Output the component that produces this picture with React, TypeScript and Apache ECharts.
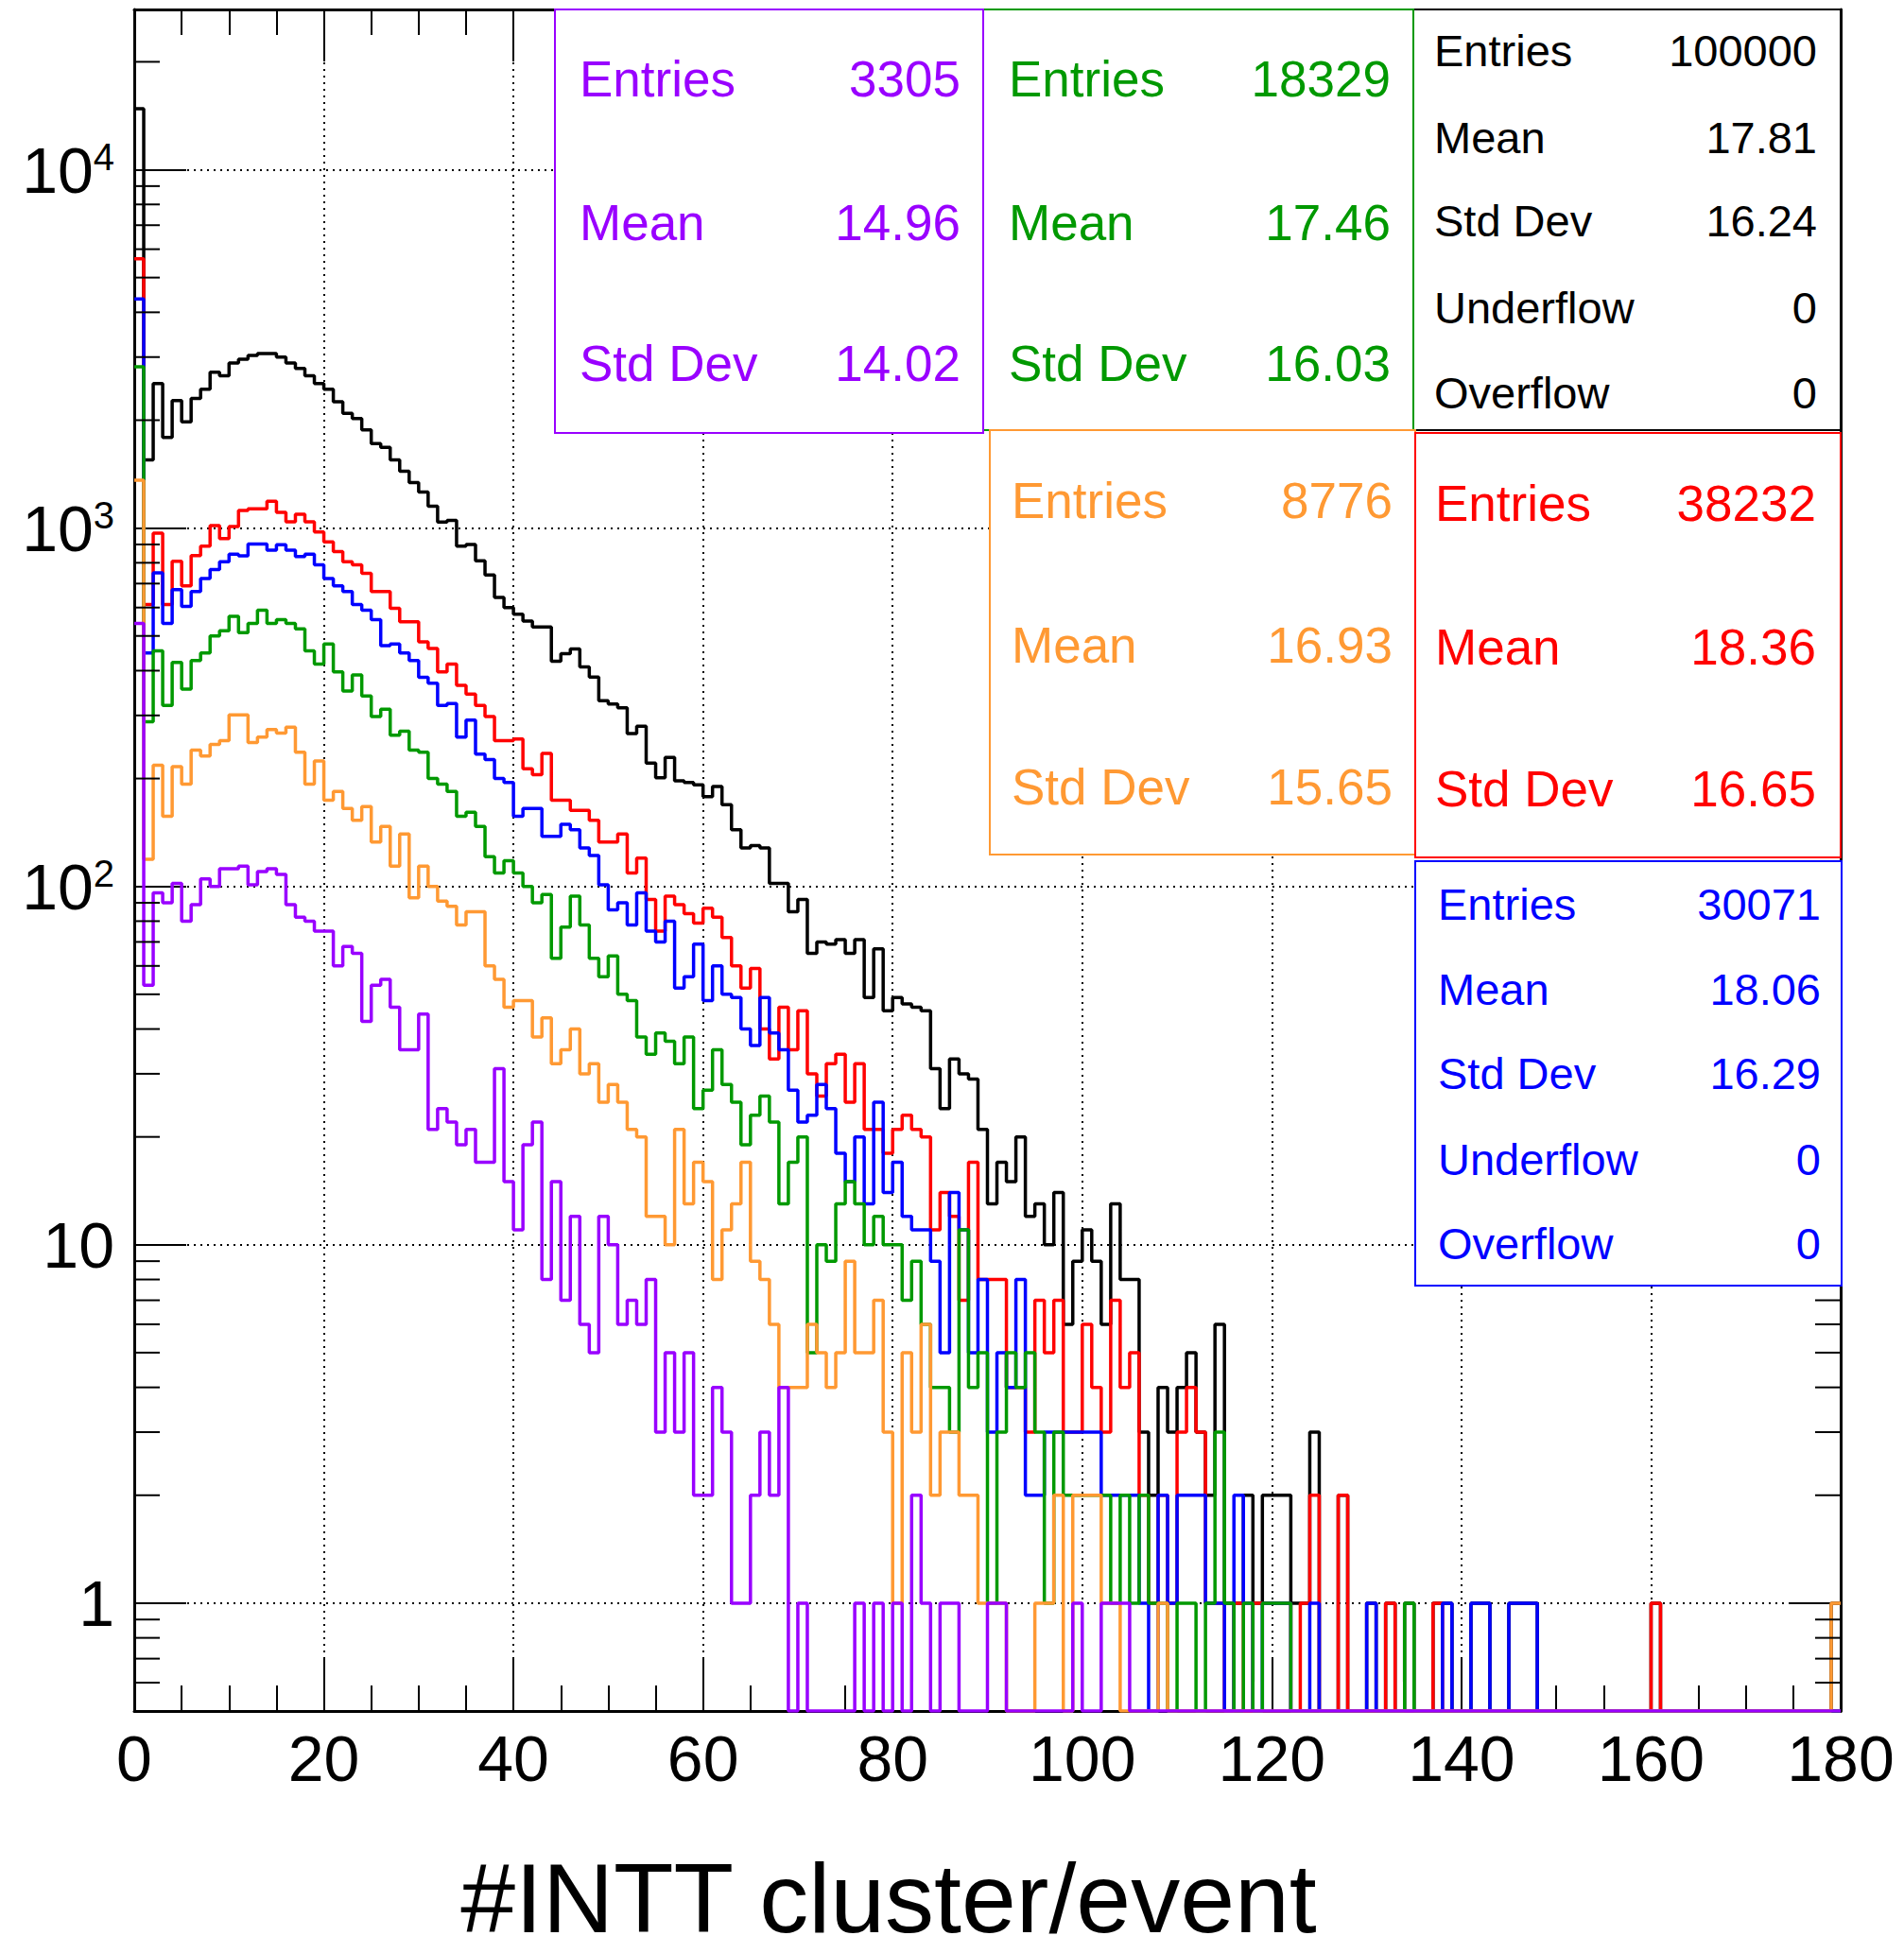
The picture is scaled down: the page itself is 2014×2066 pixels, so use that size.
import React, { useEffect, useRef } from 'react';
import * as echarts from 'echarts';

// ---------------- axis definitions ----------------
const X_MIN = 0;
const X_MAX = 180;
const X_INTERVAL = 20;
const X_TICK_LABELS = ['0', '20', '40', '60', '80', '100', '120', '140', '160', '180'];
const Y_MIN = 0.5;
const Y_MAX = 28000;
const Y_MINOR_TICKS = [
  0.6, 0.7, 0.8, 0.9,
  2, 3, 4, 5, 6, 7, 8, 9,
  20, 30, 40, 50, 60, 70, 80, 90,
  200, 300, 400, 500, 600, 700, 800, 900,
  2000, 3000, 4000, 5000, 6000, 7000, 8000, 9000,
  20000,
];
const X_TITLE = '#INTT cluster/event';

// ---------------- histogram contents (bins of width 1 from 0 to 180) ----------------
const HIST_ALL = [
  14800, 1550, 2530, 1790, 2270, 1980, 2300, 2440, 2720, 2660,
  2890, 2960, 3030, 3070, 3070, 3000, 2890, 2790, 2660, 2530,
  2440, 2250, 2090, 2020, 1880, 1720, 1680, 1550, 1440, 1340,
  1260, 1150, 1040, 1050, 890, 900, 810, 740, 640, 600,
  575, 550, 530, 530, 425, 446, 460, 410, 384, 330,
  323, 315, 267, 280, 221, 201, 229, 197, 195, 192,
  178, 190, 169, 144, 128, 130, 128, 102, 102, 85,
  92, 65, 70, 69, 71, 65, 71, 49, 67, 45,
  49, 47, 46, 45, 31, 24, 33, 30, 29, 21,
  13, 17, 15, 20, 12, 13, 10, 14, 6, 9,
  11, 9, 6, 13, 8, 8, 3, 2, 4, 3,
  4, 5, 3, 2, 6, 1, 1, 2, 1, 2,
  2, 2, 1, 1, 3, 0, 0, 2, 0, 0,
  1, 0, 1, 0, 1, 0, 0, 1, 1, 0,
  0, 1, 1, 0, 0, 1, 1, 1, 0, 0,
  0, 0, 0, 0, 0, 0, 0, 0, 0, 0,
  1, 0, 0, 0, 0, 0, 0, 0, 0, 0,
  0, 0, 0, 0, 0, 0, 0, 0, 0, 1,
];
const HIST_RED = [
  5640, 612, 968, 612, 808, 690, 838, 890, 1016, 934,
  1010, 1120, 1132, 1132, 1188, 1106, 1041, 1092, 1041, 975,
  915, 860, 805, 790, 748, 665, 665, 597, 548, 548,
  481, 461, 397, 417, 364, 344, 320, 298, 255, 255,
  258, 213, 205, 235, 174, 174, 163, 163, 153, 133,
  133, 140, 109, 120, 92, 75, 94, 89, 84, 79,
  87, 82, 72, 60, 52, 59, 40, 33, 46, 35,
  45, 30, 26, 32, 34, 25, 32, 21, 21, 18,
  21, 23, 21, 20, 11, 14, 12, 7, 17, 8,
  8, 8, 4, 4, 3, 7, 5, 7, 3, 3,
  6, 4, 3, 7, 4, 5, 2, 1, 2, 1,
  3, 4, 3, 1, 1, 0, 1, 0, 1, 1,
  1, 1, 0, 1, 2, 0, 0, 2, 0, 0,
  0, 0, 1, 0, 0, 0, 0, 1, 0, 0,
  0, 0, 0, 0, 0, 0, 0, 0, 0, 0,
  0, 0, 0, 0, 0, 0, 0, 0, 0, 0,
  1, 0, 0, 0, 0, 0, 0, 0, 0, 0,
  0, 0, 0, 0, 0, 0, 0, 0, 0, 0,
];
const HIST_BLUE = [
  4360, 448, 750, 542, 673, 604, 665, 723, 766, 805,
  846, 836, 903, 903, 868, 899, 868, 833, 846, 789,
  723, 690, 665, 612, 590, 555, 470, 475, 448, 427,
  383, 369, 320, 324, 261, 291, 234, 226, 200, 195,
  157, 165, 165, 138, 138, 149, 144, 128, 122, 101,
  86, 90, 78, 96, 75, 70, 80, 52, 56, 69,
  48, 60, 50, 49, 40, 36, 49, 39, 35, 27,
  22, 23, 28, 24, 18, 15, 20, 13, 25, 14,
  17, 12, 11, 11, 9, 5, 14, 11, 5, 8,
  3, 5, 4, 8, 2, 2, 3, 3, 3, 3,
  3, 3, 2, 2, 2, 2, 1, 0, 2, 1,
  2, 2, 2, 1, 1, 0, 2, 1, 0, 1,
  1, 1, 0, 0, 1, 0, 0, 0, 0, 0,
  1, 0, 0, 0, 0, 0, 0, 0, 1, 0,
  0, 1, 1, 0, 0, 1, 1, 1, 0, 0,
  0, 0, 0, 0, 0, 0, 0, 0, 0, 0,
  0, 0, 0, 0, 0, 0, 0, 0, 0, 0,
  0, 0, 0, 0, 0, 0, 0, 0, 0, 0,
];
const HIST_GREEN = [
  2820, 288, 454, 320, 422, 355, 427, 448, 500, 517,
  567, 511, 542, 590, 542, 555, 542, 523, 454, 417,
  475, 397, 351, 389, 340, 298, 312, 264, 271, 240,
  237, 200, 193, 184, 157, 161, 147, 121, 109, 118,
  109, 100, 90, 95, 63, 77, 94, 78, 63, 56,
  64, 50, 48, 38, 34, 39, 37, 32, 38, 24,
  27, 35, 28, 25, 19, 23, 26, 22, 13, 17,
  20, 5, 10, 9, 13, 15, 13, 10, 12, 10,
  10, 7, 9, 6, 4, 4, 3, 11, 4, 5,
  1, 3, 5, 4, 5, 3, 1, 3, 2, 2,
  2, 2, 2, 1, 2, 1, 2, 1, 1, 0,
  1, 1, 0, 1, 3, 1, 0, 1, 0, 1,
  1, 1, 0, 0, 0, 0, 0, 0, 0, 0,
  0, 0, 0, 0, 1, 0, 0, 0, 0, 0,
  0, 0, 0, 0, 0, 0, 0, 0, 0, 0,
  0, 0, 0, 0, 0, 0, 0, 0, 0, 0,
  0, 0, 0, 0, 0, 0, 0, 0, 0, 0,
  0, 0, 0, 0, 0, 0, 0, 0, 0, 0,
];
const HIST_ORANGE = [
  1360, 119, 218, 157, 216, 193, 240, 231, 249, 255,
  301, 301, 252, 261, 274, 268, 278, 237, 193, 224,
  174, 184, 165, 153, 167, 133, 147, 114, 140, 93,
  114, 100, 91, 88, 78, 85, 85, 60, 55, 46,
  48, 48, 38, 43, 32, 35, 40, 30, 32, 25,
  28, 25, 21, 20, 12, 12, 10, 21, 13, 17,
  15, 8, 11, 13, 17, 9, 8, 6, 4, 4,
  4, 6, 5, 4, 5, 9, 5, 5, 7, 3,
  1, 5, 3, 6, 2, 3, 3, 2, 2, 1,
  1, 1, 0, 0, 0, 1, 1, 2, 0, 2,
  2, 2, 1, 1, 0, 0, 0, 0, 1, 0,
  0, 0, 0, 0, 0, 0, 0, 0, 0, 0,
  0, 0, 0, 0, 0, 0, 0, 0, 0, 0,
  0, 0, 0, 0, 0, 0, 0, 0, 0, 0,
  0, 0, 0, 0, 0, 0, 0, 0, 0, 0,
  0, 0, 0, 0, 0, 0, 0, 0, 0, 0,
  0, 0, 0, 0, 0, 0, 0, 0, 0, 0,
  0, 0, 0, 0, 0, 0, 0, 0, 0, 1,
];
const HIST_VIOLET = [
  542, 53, 96, 90, 102, 80, 89, 105, 100, 112,
  112, 114, 101, 110, 112, 108, 89, 82, 80, 75,
  75, 60, 68, 65, 42, 53, 55, 46, 35, 35,
  44, 21, 24, 22, 19, 21, 17, 17, 31, 15,
  11, 19, 22, 8, 15, 7, 12, 6, 5, 12,
  10, 6, 7, 6, 8, 3, 5, 3, 5, 2,
  2, 4, 3, 1, 1, 2, 3, 2, 4, 0,
  1, 0, 0, 0, 0, 0, 1, 0, 1, 0,
  1, 0, 2, 1, 0, 1, 1, 0, 0, 0,
  1, 1, 0, 0, 0, 0, 0, 0, 0, 1,
  0, 0, 1, 1, 1, 0, 0, 0, 0, 0,
  0, 0, 0, 0, 0, 0, 0, 0, 0, 0,
  0, 0, 0, 0, 0, 0, 0, 0, 0, 0,
  0, 0, 0, 0, 0, 0, 0, 0, 0, 0,
  0, 0, 0, 0, 0, 0, 0, 0, 0, 0,
  0, 0, 0, 0, 0, 0, 0, 0, 0, 0,
  0, 0, 0, 0, 0, 0, 0, 0, 0, 0,
  0, 0, 0, 0, 0, 0, 0, 0, 0, 0,
];

// ---------------- statistics boxes ----------------
const STAT_LABELS_3 = ['Entries', 'Mean', 'Std Dev'];
const STAT_LABELS_5 = ['Entries', 'Mean', 'Std Dev', 'Underflow', 'Overflow'];
const STATS_VIOLET = ['3305', '14.96', '14.02'];
const STATS_GREEN = ['18329', '17.46', '16.03'];
const STATS_ALL = ['100000', '17.81', '16.24', '0', '0'];
const STATS_ORANGE = ['8776', '16.93', '15.65'];
const STATS_RED = ['38232', '18.36', '16.65'];
const STATS_BLUE = ['30071', '18.06', '16.29', '0', '0'];

const C_BLACK = '#000000';
const C_RED = '#ff0000';
const C_BLUE = '#0000ff';
const C_GREEN = '#009900';
const C_ORANGE = '#ff9933';
const C_VIOLET = '#9900ff';

const FONT = '"Liberation Sans", Arial, Helvetica, sans-serif';

function stepData(values: number[]) {
  const pts = values.map((v, i) => [X_MIN + i, Math.max(v, Y_MIN)]);
  pts.push([X_MIN + values.length, Math.max(values[values.length - 1], Y_MIN)]);
  return pts;
}

function histSeries(name: string, values: number[], color: string) {
  return {
    name,
    type: 'line',
    step: 'end',
    data: stepData(values),
    showSymbol: false,
    symbol: 'none',
    xAxisIndex: 0,
    yAxisIndex: 0,
    clip: true,
    lineStyle: { color, width: 3.5 },
    itemStyle: { color },
    silent: true,
    z: 3,
  };
}

function statBox(
  x: number, y: number, w: number, h: number, color: string,
  labels: string[], values: string[], rowsY: number[], fontSize: number,
  labelX: number, valueX: number,
) {
  const items: any[] = [
    {
      type: 'rect',
      shape: { x, y, width: w, height: h },
      style: { fill: '#ffffff', stroke: color, lineWidth: 2 },
      z: 100,
    },
  ];
  labels.forEach((lab, i) => {
    items.push({
      type: 'text', x: labelX, y: rowsY[i], z: 101,
      style: { text: lab, fill: color, fontSize, fontFamily: FONT, align: 'left', verticalAlign: 'middle' },
    });
    items.push({
      type: 'text', x: valueX, y: rowsY[i], z: 101,
      style: { text: values[i], fill: color, fontSize, fontFamily: FONT, align: 'right', verticalAlign: 'middle' },
    });
  });
  return items;
}

function yLabel(v: number) {
  const lg = Math.log10(v);
  const e = Math.round(lg);
  if (Math.abs(lg - e) > 1e-6 || e < 0) return '';
  if (e === 0) return '{b|1}';
  if (e === 1) return '{b|10}';
  return '{b|10}{s|' + e + '}';
}

export default function App() {
  const ref = useRef<HTMLDivElement>(null);

  useEffect(() => {
    if (!ref.current) return;
    const chart = echarts.init(ref.current, undefined, { renderer: 'svg' });

    const axisLineStyle = { color: '#000', width: 3 };
    const tickStyle = { color: '#000', width: 2 };
    const dotted = { color: '#000', width: 2, type: [2, 5] as any };

    const option: any = {
      animation: false,
      backgroundColor: '#ffffff',
      grid: { left: 142, right: 67, top: 10, bottom: 256, show: false },
      xAxis: [
        {
          type: 'value', min: X_MIN, max: X_MAX, interval: X_INTERVAL, position: 'bottom',
          axisLine: { show: true, onZero: false, lineStyle: axisLineStyle },
          axisTick: { show: true, inside: true, length: 55, lineStyle: tickStyle },
          minorTick: { show: true, splitNumber: 4, length: 27, lineStyle: tickStyle },
          axisLabel: {
            show: true, fontSize: 68, fontFamily: FONT, color: '#000', margin: 16,
            showMinLabel: true, showMaxLabel: true, hideOverlap: false,
            formatter: (v: number) => X_TICK_LABELS[Math.round((v - X_MIN) / X_INTERVAL)] ?? '',
          },
          splitLine: { show: true, lineStyle: dotted },
        },
        {
          type: 'value', min: X_MIN, max: X_MAX, interval: X_INTERVAL, position: 'top',
          axisLine: { show: true, onZero: false, lineStyle: axisLineStyle },
          axisTick: { show: true, inside: true, length: 55, lineStyle: tickStyle },
          minorTick: { show: true, splitNumber: 4, length: 27, lineStyle: tickStyle },
          axisLabel: { show: false },
          splitLine: { show: false },
        },
      ],
      yAxis: [
        {
          type: 'log', logBase: 10, min: Y_MIN, max: Y_MAX, position: 'left',
          axisLine: { show: true, onZero: false, lineStyle: axisLineStyle },
          axisTick: { show: true, inside: true, length: 55, lineStyle: tickStyle },
          axisLabel: {
            show: true, margin: 21, color: '#000', showMinLabel: true, showMaxLabel: true,
            formatter: yLabel,
            rich: {
              b: { fontSize: 68, fontFamily: FONT, color: '#000', lineHeight: 68 },
              s: { fontSize: 40, fontFamily: FONT, color: '#000', lineHeight: 40, verticalAlign: 'top' },
            },
          },
          splitLine: { show: true, lineStyle: dotted },
        },
        {
          type: 'log', logBase: 10, min: Y_MIN, max: Y_MAX, position: 'right',
          axisLine: { show: true, onZero: false, lineStyle: axisLineStyle },
          axisTick: { show: true, inside: true, length: 55, lineStyle: tickStyle },
          axisLabel: { show: false },
          splitLine: { show: false },
        },
      ],
      series: [
        histSeries('all', HIST_ALL, C_BLACK),
        histSeries('red', HIST_RED, C_RED),
        histSeries('blue', HIST_BLUE, C_BLUE),
        histSeries('green', HIST_GREEN, C_GREEN),
        histSeries('orange', HIST_ORANGE, C_ORANGE),
        histSeries('violet', HIST_VIOLET, C_VIOLET),
        {
          type: 'custom',
          xAxisIndex: 0,
          yAxisIndex: 0,
          data: Y_MINOR_TICKS.map((v) => [X_MIN, v]),
          encode: { x: 0, y: 1 },
          silent: true,
          clip: false,
          z: 4,
          renderItem: (_params: any, api: any) => {
            const v = api.value(1);
            const l = api.coord([X_MIN, v]);
            const r = api.coord([X_MAX, v]);
            return {
              type: 'group',
              children: [
                { type: 'line', shape: { x1: l[0], y1: l[1], x2: l[0] + 27, y2: l[1] }, style: { stroke: '#000', lineWidth: 2 } },
                { type: 'line', shape: { x1: r[0] - 27, y1: r[1], x2: r[0], y2: r[1] }, style: { stroke: '#000', lineWidth: 2 } },
              ],
            };
          },
        },
      ],
      graphic: [
        ...statBox(1495, 10, 452, 445, C_BLACK, STAT_LABELS_5, STATS_ALL, [53, 145, 233, 325, 415], 47, 1517, 1922),
        ...statBox(1040, 10, 455, 445, C_GREEN, STAT_LABELS_3, STATS_GREEN, [83, 235, 384], 53, 1067, 1471),
        ...statBox(587, 10, 453, 448, C_VIOLET, STAT_LABELS_3, STATS_VIOLET, [83, 235, 384], 53, 613, 1016),
        ...statBox(1047, 455, 450, 449, C_ORANGE, STAT_LABELS_3, STATS_ORANGE, [529, 682, 832], 53, 1070, 1473),
        ...statBox(1497, 458, 450, 449, C_RED, STAT_LABELS_3, STATS_RED, [532, 684, 834], 53, 1518, 1921),
        ...statBox(1497, 911, 451, 449, C_BLUE, STAT_LABELS_5, STATS_BLUE, [956, 1046, 1135, 1226, 1315], 47, 1521, 1926),
        {
          type: 'text', x: 940, y: 2008, z: 101,
          style: { text: X_TITLE, fill: '#000', fontSize: 104, fontFamily: FONT, align: 'center', verticalAlign: 'middle' },
        },
      ],
    };

    chart.setOption(option);
    return () => chart.dispose();
  }, []);

  return (
    <div
      ref={ref}
      style={{ position: 'absolute', left: 0, top: 0, width: 2014, height: 2066, background: '#fff' }}
    />
  );
}
